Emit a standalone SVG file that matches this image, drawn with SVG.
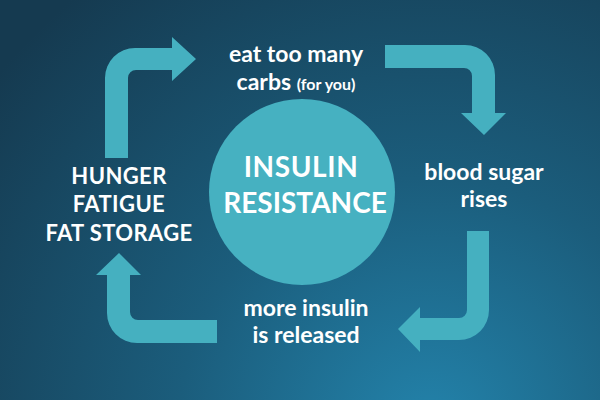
<svg xmlns="http://www.w3.org/2000/svg" width="600" height="400" viewBox="0 0 600 400">
<defs>
<radialGradient id="bg" gradientUnits="userSpaceOnUse" cx="430" cy="430" r="560">
<stop offset="0" stop-color="#2383ab"/>
<stop offset="0.45" stop-color="#1b5d7c"/>
<stop offset="1" stop-color="#153a50"/>
</radialGradient>
<style>
.arr{fill:#45b0c0}
.t{font-family:Lato,"Liberation Sans",sans-serif;font-weight:bold;fill:#ffffff;text-anchor:middle}
.m{font-size:23px}
.s{font-size:16px}
.c{font-size:28px}
.u{font-size:22px;letter-spacing:0.4px}
</style>
</defs>
<rect width="600" height="400" fill="url(#bg)"/>
<g id="center">
<circle cx="302" cy="192" r="93" fill="#46b1c1"/>
<text class="t c" x="301" y="177" letter-spacing="0.6">INSULIN</text>
<text class="t c" x="305" y="213">RESISTANCE</text>
</g>
<g id="connectors">
<path class="arr" d="M105,158 L105,78 A30,30 0 0 1 135,48 L172,48 L172,37 L196,59 L172,81 L172,70 L136,70 A8,8 0 0 0 128,78 L128,158 Z"/>
<path class="arr" d="M385,45 L465,45 A30,30 0 0 1 495,75 L495,113 L506,113 L484,135 L461,113 L472,113 L472,76 A8,8 0 0 0 464,68 L385,68 Z"/>
<path class="arr" d="M467,231 L489,231 L489,310 A30,30 0 0 1 459,340 L420,340 L420,352 L398,329 L420,307 L420,318 L459,318 A8,8 0 0 0 467,310 Z"/>
<path class="arr" d="M217,320 L138,320 A8,8 0 0 1 130,312 L130,275 L141,275 L119,253 L96,275 L107,275 L107,313 A30,30 0 0 0 137,343 L217,343 Z"/>
</g>
<g id="eat">
<text class="t m" x="296" y="62">eat too many</text>
<text class="t m" x="296" y="90">carbs <tspan class="s">(for you)</tspan></text>
</g>
<g id="blood">
<text class="t m" x="484" y="180">blood sugar</text>
<text class="t m" x="484" y="207">rises</text>
</g>
<g id="insulin">
<text class="t m" x="306" y="316">more insulin</text>
<text class="t m" x="306" y="343">is released</text>
</g>
<g id="hunger">
<text class="t u" x="119" y="184">HUNGER</text>
<text class="t u" x="119" y="212">FATIGUE</text>
<text class="t u" x="119" y="241">FAT STORAGE</text>
</g>
</svg>
